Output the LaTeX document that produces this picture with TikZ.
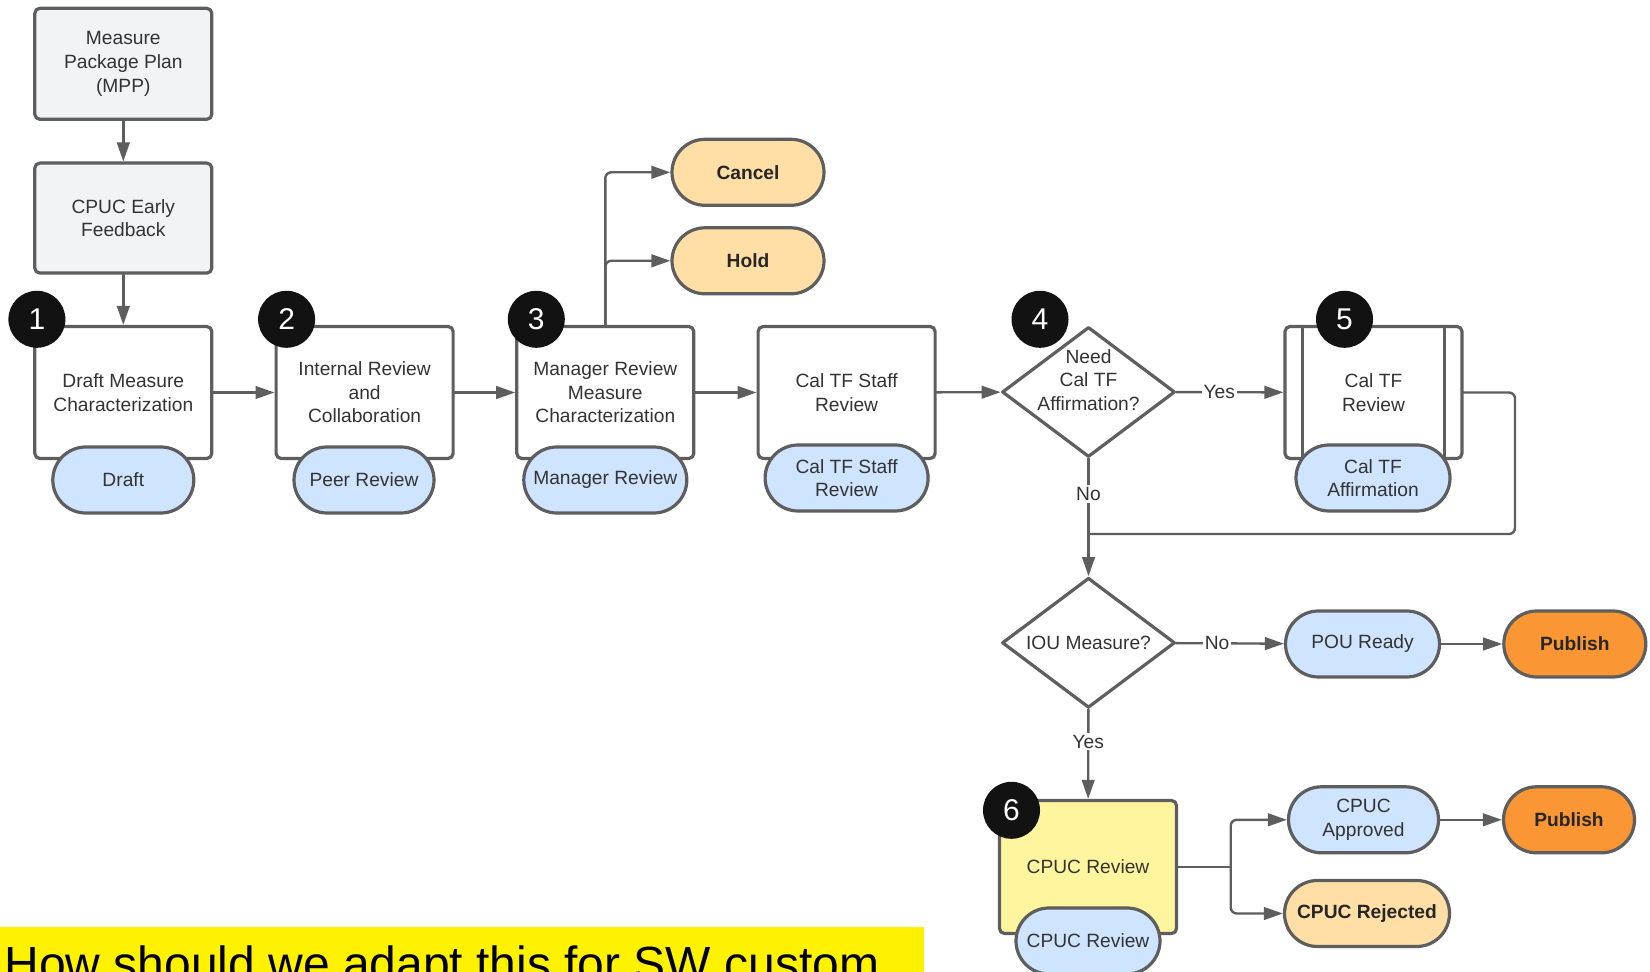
\documentclass[tikz,border=0pt]{standalone}
\usepackage{fontspec}
\setmainfont{Liberation Sans}
\usetikzlibrary{shapes.geometric,arrows.meta}
\definecolor{edge}{HTML}{5E5E5E}
\definecolor{ink}{HTML}{333333}
\definecolor{boxgray}{HTML}{F2F3F5}
\definecolor{stateblue}{HTML}{CFE4FF}
\definecolor{peach}{HTML}{FFDFA6}
\definecolor{pubor}{HTML}{FB9635}
\definecolor{cpucyel}{HTML}{FFF59E}
\newcommand\flowfont{\fontsize{9.6}{11.8}\selectfont}
\begin{document}
\begin{tikzpicture}[x=0.5pt,y=-0.5pt,line join=round,line cap=round,>={Triangle[length=9.5pt,width=6.3pt]},font=\flowfont,text=ink]
	\tikzset{every node/.style={align=center},
		box/.style={draw=edge,line width=1.6pt,rounded corners=2.5pt,fill=white,minimum width=88.5pt,minimum height=66pt},
		pill/.style={draw=edge,line width=1.6pt,rounded corners=16.5pt,fill=stateblue,minimum width=#1,minimum height=33pt,inner sep=1pt},
		dia/.style={diamond,draw=edge,line width=1.6pt,fill=white,minimum width=86.5pt,minimum height=65pt,inner sep=0pt},
		outc/.style={font=\flowfont\bfseries,text=black!85},
		num/.style={circle,fill=black!93,text=white,minimum size=28.5pt,inner sep=0pt,font=\fontsize{15}{15}\selectfont},
		arr/.style={->,draw=edge,line width=1.2pt},
		line/.style={draw=edge,line width=1.2pt},
		lbl/.style={fill=white,inner sep=1pt}}
	\useasboundingbox (0,0) rectangle (1650,972);
	\clip (0,0) rectangle (1650,972);
	\fill[white] (0,0) rectangle (1650,972);
	% planning
	\node[box,fill=boxgray,minimum height=55.5pt] (mpp) at (123.3,63.8) {Measure\\Package Plan\\(MPP)};
	\node[box,fill=boxgray,minimum height=55pt] (early) at (123.3,218.1) {CPUC Early\\Feedback};
	% main line
	\node[box] (draft) at (123.3,392.5) {Draft Measure\\Characterization};
	\node[box] (internal) at (364.6,392.5) {Internal Review\\and\\Collaboration};
	\node[box] (mgr) at (605.3,392.5) {Manager Review\\Measure\\Characterization};
	\node[box] (staff) at (846.6,392.5) {Cal TF Staff\\Review};
	\node[dia,label={[yshift=6pt]center:Need\\Cal TF\\Affirmation?}] (need) at (1088.5,392) {};
	\node[box] (caltf) at (1373.5,392.5) {Cal TF\\Review};
	\draw[edge,line width=1.6pt] ([xshift=9.5pt,yshift=-0.8pt]caltf.north west) -- ([xshift=9.5pt]caltf.south west)
		([xshift=-9.5pt,yshift=-0.8pt]caltf.north east) -- ([xshift=-9.5pt]caltf.south east);
	% states
	\node[pill=70.5pt] (sdraft) at (123.3,480) {Draft};
	\node[pill=70pt] (speer) at (364,480) {Peer Review};
	\node[pill=81.5pt] (smgr) at (605.3,480) {Manager Review};
	\node[pill=81.5pt] (sstaff) at (846.6,478) {Cal TF Staff\\Review};
	\node[pill=77pt] (saff) at (1373,478) {Cal TF\\Affirmation};
	% side exits
	\node[pill=76pt,fill=peach,outc] (cancel) at (748,172.3) {Cancel};
	\node[pill=76pt,fill=peach,outc] (hold) at (748,260.8) {Hold};
	% publication
	\node[dia,label=center:IOU Measure?] (iou) at (1088.5,642.8) {};
	\node[pill=77pt] (pou) at (1362.5,644) {POU Ready};
	\node[pill=71pt,fill=pubor,outc] (pub1) at (1574.8,644) {Publish};
	\node[box,fill=cpucyel,minimum height=66.5pt] (cpuc) at (1088,867) {CPUC Review};
	\node[pill=72pt] (scpuc) at (1088,941) {CPUC Review};
	\node[pill=75pt] (approved) at (1363.5,819.8) {CPUC\\Approved};
	\node[pill=65.5pt,fill=pubor,outc] (pub2) at (1569,819.8) {Publish};
	\node[pill=82.5pt,fill=peach,outc] (rejected) at (1367,913.5) {CPUC Rejected};
	% step numbers
	\foreach \n/\x/\y in {1/36.9/319.3,2/286.6/319.3,3/536.3/319.3,4/1040/319.3,5/1344.5/319.3,6/1011.5/810.3}
		\node[num] (n\n) at (\x,\y) {\n};
	% connectors
	\draw[arr] (mpp) -- (early);
	\draw[arr] (early) -- (draft);
	\draw[arr] (draft) -- (internal);
	\draw[arr] (internal) -- (mgr);
	\draw[arr] (mgr) -- (staff);
	\draw[arr] (staff) -- (need);
	\draw[arr] (need) -- node[lbl,pos=0.4]{Yes} (caltf);
	\draw[arr,rounded corners=3pt] (mgr.north) |- (cancel.west);
	\draw[arr,rounded corners=3pt] (mgr.north) |- (hold.west);
	\draw[arr] (need) -- node[lbl,pos=0.3]{No} (iou);
	\coordinate (back) at (1515,534);
	\draw[line,rounded corners=3pt] (caltf.east) -| (back) -- (need |- back);
	\draw[arr] (iou) -- node[lbl,pos=0.38]{No} (pou);
	\draw[arr] (pou) -- (pub1);
	\draw[arr] (iou) -- node[lbl,pos=0.36]{Yes} (cpuc);
	\coordinate (split) at (1230.7,867);
	\draw[line] (cpuc) -- (split);
	\draw[arr,rounded corners=3pt] (split) |- (approved);
	\draw[arr,rounded corners=3pt] (split) |- (rejected);
	\draw[arr] (approved) -- (pub2);
	% question
	\fill[yellow] (0,927) rectangle (924,985);
	\node[anchor=base west,inner sep=0pt,text=black,font=\fontsize{24}{28}\selectfont] (ask) at (4,980) {How should we adapt this for SW custom};
\end{tikzpicture}
\end{document}
